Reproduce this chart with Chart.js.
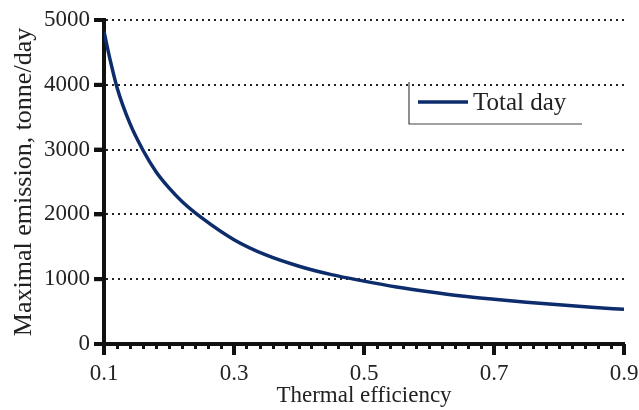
<!DOCTYPE html>
<html>
<head>
<meta charset="utf-8">
<script src="https://cdn.jsdelivr.net/npm/chart.js@4.4.1/dist/chart.umd.min.js"></script>
<style>
  html, body { margin: 0; padding: 0; background: #fff; }
  #wrap { width: 639px; height: 410px; position: relative; }
</style>
</head>
<body>
<div id="wrap"><canvas id="effChart" width="639" height="410"></canvas></div>
<script>
// values
var efficiency = [0.10, 0.11, 0.12, 0.14, 0.16, 0.18, 0.20, 0.22, 0.25, 0.30, 0.35, 0.40, 0.45, 0.50, 0.55, 0.60, 0.65, 0.70, 0.75, 0.80, 0.85, 0.90];
var emission   = [4820, 4360, 3960, 3400, 2990, 2660, 2410, 2200, 1950, 1610, 1370, 1200, 1070, 970, 880, 805, 740, 690, 645, 605, 568, 535];
var seriesName = "Total day";
var xTitle = "Thermal efficiency";
var yTitle = "Maximal emission, tonne/day";

var serif = "'Liberation Serif', 'Times New Roman', serif";
var lineColor = "#0c2c6c";

var points = efficiency.map(function (x, i) { return { x: x, y: emission[i] }; });

// longer tick marks for the labelled x values, plus the y ticks
var axisTicks = {
    id: "axisTicks",
    afterDraw: function (chart) {
        var ctx = chart.ctx;
        var xs = chart.scales.x, ys = chart.scales.y;
        var area = chart.chartArea;
        ctx.save();
        ctx.strokeStyle = "#111";
        ctx.lineWidth = 4;
        xs.ticks.forEach(function (t) {
            if (Math.round(t.value * 100) % 20 === 10) {
                var px = xs.getPixelForValue(t.value);
                ctx.beginPath();
                ctx.moveTo(px, area.bottom);
                ctx.lineTo(px, area.bottom + 11);
                ctx.stroke();
            }
        });
        ys.ticks.forEach(function (t) {
            var py = ys.getPixelForValue(t.value);
            ctx.beginPath();
            ctx.moveTo(area.left - 10, py);
            ctx.lineTo(area.left, py);
            ctx.stroke();
        });
        ctx.restore();
    }
};

// legend box with left and bottom rule
var boxLegend = {
    id: "boxLegend",
    afterDraw: function (chart) {
        var ctx = chart.ctx;
        ctx.save();
        ctx.strokeStyle = "#444";
        ctx.lineWidth = 1.2;
        ctx.beginPath();
        ctx.moveTo(409, 82);
        ctx.lineTo(409, 124);
        ctx.lineTo(582, 124);
        ctx.stroke();
        ctx.strokeStyle = lineColor;
        ctx.lineWidth = 3.5;
        ctx.beginPath();
        ctx.moveTo(418, 102);
        ctx.lineTo(468, 102);
        ctx.stroke();
        ctx.fillStyle = "#222";
        ctx.font = "25px " + serif;
        ctx.textBaseline = "middle";
        ctx.fillText(seriesName, 473, 103);
        ctx.restore();
    }
};

var effChart = new Chart(document.getElementById("effChart"), {
    type: "line",
    data: {
        datasets: [{
            label: seriesName,
            data: points,
            borderColor: lineColor,
            borderWidth: 3.5,
            pointRadius: 0,
            fill: false,
            cubicInterpolationMode: "monotone"
        }]
    },
    options: {
        responsive: false,
        animation: false,
        layout: { padding: { top: 20, right: 15, left: 0, bottom: 0 } },
        plugins: { legend: { display: false }, tooltip: { enabled: false } },
        scales: {
            x: {
                type: "linear",
                min: 0.1,
                max: 0.9,
                afterFit: function (s) { s.height = 66; s.paddingRight = 0; s.paddingLeft = 0; },
                ticks: {
                    stepSize: 0.02,
                    autoSkip: false,
                    maxRotation: 0,
                    padding: 11,
                    color: "#222",
                    font: { family: serif, size: 23 },
                    callback: function (v) {
                        return Math.round(v * 100) % 20 === 10 ? v.toFixed(1) : "";
                    }
                },
                grid: { drawOnChartArea: false, drawTicks: true, tickLength: 5, tickWidth: 3, tickColor: "#111" },
                border: { display: true, width: 4, color: "#111" },
                title: { display: true, text: xTitle, color: "#222", font: { family: serif, size: 23 }, padding: { top: 0, bottom: 0 } }
            },
            y: {
                min: 0,
                max: 5000,
                afterFit: function (s) { s.width = 104; },
                ticks: {
                    stepSize: 1000,
                    padding: 4,
                    color: "#222",
                    font: { family: serif, size: 23 },
                    callback: function (v) { return String(v); }
                },
                grid: { color: "#222", lineWidth: 2, tickLength: 10, tickWidth: 4, tickColor: "#111" },
                border: { display: true, width: 4, color: "#111", dash: [2, 4] },
                title: { display: true, text: yTitle, color: "#222", font: { family: serif, size: 26 }, padding: { top: 9, bottom: 0 } }
            }
        }
    },
    plugins: [axisTicks, boxLegend]
});
</script>
</body>
</html>
